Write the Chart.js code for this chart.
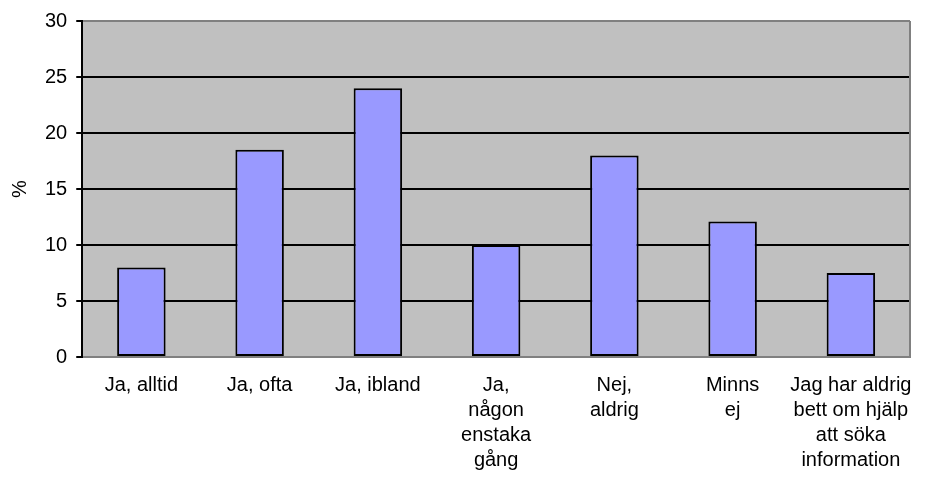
<!DOCTYPE html>
<html>
<head>
<meta charset="utf-8">
<script src="https://cdn.jsdelivr.net/npm/chart.js@4"></script>
<style>
  html, body { margin: 0; padding: 0; background: #fff; }
  #wrap { width: 932px; height: 484px; }
</style>
</head>
<body>
<div id="wrap"><canvas id="chart"></canvas></div>
<script>
const categories = [
  ['Ja, alltid'],
  ['Ja, ofta'],
  ['Ja, ibland'],
  ['Ja,', 'någon', 'enstaka', 'gång'],
  ['Nej,', 'aldrig'],
  ['Minns', 'ej'],
  ['Jag har aldrig', 'bett om hjälp', 'att söka', 'information']
];
const percent = [8, 18.5, 24, 10, 18, 12.1, 7.5];
const yTicks = [0, 5, 10, 15, 20, 25, 30];

// grey plot background plus the right-hand frame line
const plotFrame = {
  id: 'plotFrame',
  beforeDraw(chart) {
    const { ctx, chartArea: a } = chart;
    ctx.save();
    ctx.fillStyle = '#c0c0c0';
    ctx.fillRect(a.left, a.top, a.right - a.left, a.bottom - a.top);
    ctx.restore();
  },
  afterDraw(chart) {
    const { ctx, chartArea: a } = chart;
    ctx.save();
    ctx.strokeStyle = '#808080';
    ctx.lineWidth = 2;
    ctx.beginPath();
    ctx.moveTo(a.right, a.top);
    ctx.lineTo(a.right, a.bottom);
    ctx.stroke();
    ctx.restore();
  }
};

const font = 'Liberation Sans, Arial';

new Chart(document.getElementById('chart'), {
  type: 'bar',
  data: {
    labels: categories,
    datasets: [{
      data: percent,
      backgroundColor: '#9999ff',
      borderColor: '#000',
      borderWidth: 2,
      borderSkipped: false,
      categoryPercentage: 1,
      barPercentage: 0.41
    }]
  },
  options: {
    responsive: true,
    maintainAspectRatio: false,
    animation: false,
    layout: { padding: { top: 9, right: 22, bottom: -5, left: 8 } },
    plugins: { legend: { display: false }, tooltip: { enabled: false } },
    scales: {
      x: {
        grid: { display: false, drawTicks: false },
        border: { color: '#808080', width: 2 },
        ticks: {
          color: '#000',
          maxRotation: 0,
          autoSkip: false,
          padding: 16,
          font: { family: font, size: 20, lineHeight: 1.25 }
        }
      },
      y: {
        min: 0,
        max: 30,
        afterBuildTicks(axis) { axis.ticks = yTicks.map(v => ({ value: v })); },
        grid: {
          color: ctx => (ctx.tick && ctx.tick.value === 30 ? '#808080' : '#000'),
          lineWidth: 2,
          tickLength: 6,
          tickColor: '#000'
        },
        border: { color: '#000', width: 2 },
        ticks: {
          color: '#000',
          padding: 9,
          font: { family: font, size: 20 }
        },
        title: {
          display: true,
          text: '%',
          color: '#000',
          padding: { top: 0, bottom: 4 },
          font: { family: font, size: 20 }
        }
      }
    }
  },
  plugins: [plotFrame]
});
</script>
</body>
</html>
